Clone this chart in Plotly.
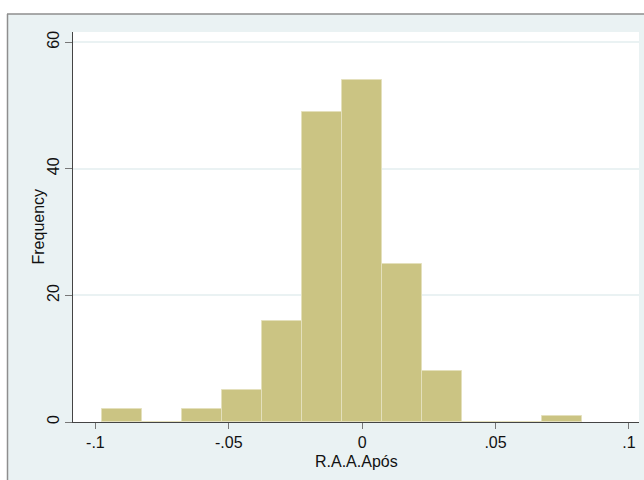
import plotly.graph_objects as go

# Histogram data (Stata-style, 12 bins)
bin_start = -0.0975
bin_width = 0.015
counts = [2, 0, 2, 5, 16, 49, 54, 25, 8, 0, 0, 1]
bin_centers = [bin_start + bin_width * (i + 0.5) for i in range(len(counts))]

x_tickvals = [-0.1, -0.05, 0, 0.05, 0.1]
x_ticktext = ["-.1", "-.05", "0", ".05", ".1"]
y_tickvals = [0, 20, 40, 60]
y_ticktext = ["0", "20", "40", "60"]

x_title = "R.A.A.Após"
y_title = "Frequency"

W, H = 644, 480
L, R, T, B = 73, 5, 32, 58
pw = W - L - R
ph = H - T - B

def px_x(p):
    return (p - L) / pw

def px_y(p):
    return (H - B - p) / ph

bg = "#EAF2F3"
font = dict(family="Liberation Sans, Arial, sans-serif", size=16, color="#111111")

fig = go.Figure()
fig.add_trace(go.Bar(
    x=bin_centers, y=counts, width=[bin_width] * len(counts),
    marker=dict(color="#CBC483", line=dict(color="#E4E0BC", width=1)),
    hoverinfo="x+y", showlegend=False,
))

shapes = [
    # white strips outside the frame
    dict(type="rect", xref="paper", yref="paper", x0=px_x(-5), x1=px_x(7), y0=px_y(H + 5), y1=px_y(-5),
         fillcolor="white", line=dict(width=0), layer="below"),
    dict(type="rect", xref="paper", yref="paper", x0=px_x(-5), x1=px_x(W + 5), y0=px_y(14), y1=px_y(-5),
         fillcolor="white", line=dict(width=0), layer="below"),
    # gray frame lines
    dict(type="line", xref="paper", yref="paper", x0=px_x(7), x1=px_x(W + 5), y0=px_y(14), y1=px_y(14),
         line=dict(color="#8E8E8E", width=1.5), layer="below"),
    dict(type="line", xref="paper", yref="paper", x0=px_x(7.5), x1=px_x(7.5), y0=px_y(14), y1=px_y(H + 5),
         line=dict(color="#8E8E8E", width=1.5), layer="below"),
]

annotations = [
    dict(text=x_title, xref="paper", yref="paper", x=0.5, y=px_y(461),
         xanchor="center", yanchor="middle", showarrow=False, font=font),
    dict(text=y_title, xref="paper", yref="paper", x=px_x(37.5), y=0.5, textangle=-90,
         xanchor="center", yanchor="middle", showarrow=False, font=font),
]

fig.update_layout(
    width=W, height=H,
    margin=dict(l=L, r=R, t=T, b=B, pad=0),
    paper_bgcolor=bg, plot_bgcolor="white",
    font=font, bargap=0, shapes=shapes, annotations=annotations,
    xaxis=dict(
        range=[-0.1084, 0.1038], tickvals=x_tickvals, ticktext=x_ticktext,
        ticks="outside", ticklen=6, tickcolor="#777777", tickwidth=1,
        showline=True, linecolor="#444444", linewidth=1,
        showgrid=False, zeroline=False, tickfont=font,
    ),
    yaxis=dict(
        range=[0, 61.6], tickvals=y_tickvals, ticktext=y_ticktext,
        ticks="outside", ticklen=7, tickcolor="#777777", tickwidth=1,
        tickangle=-90,
        showline=True, linecolor="#444444", linewidth=1,
        showgrid=True, gridcolor=bg, gridwidth=1.5, zeroline=False, tickfont=font,
    ),
)

fig.write_html("out.html", config={"displayModeBar": False},
               post_script="document.body.style.margin='0px';")
